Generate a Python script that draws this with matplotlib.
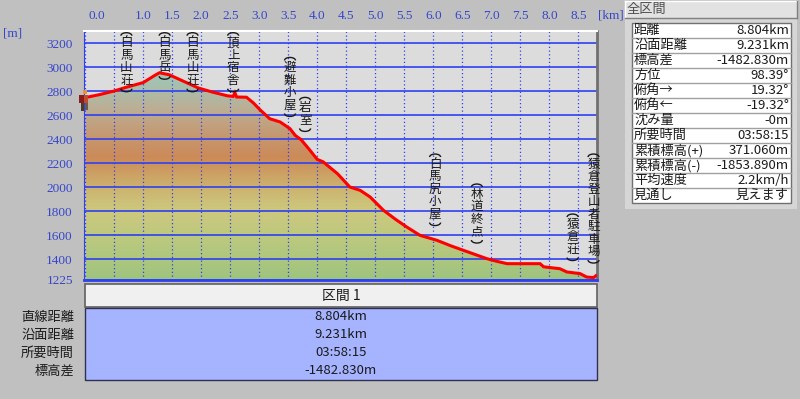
import numpy as np
import matplotlib
matplotlib.use("Agg")
import matplotlib.pyplot as plt
import matplotlib.transforms as mtransforms
from matplotlib.colors import LinearSegmentedColormap
from matplotlib.patches import Rectangle, Polygon, Arc

plt.rcParams['font.family'] = ['Noto Sans CJK JP', 'DejaVu Sans']

# ------------------------------------------------------------
# Data
# ------------------------------------------------------------
dist_km = [0.00, 0.25, 0.50, 0.70, 1.00, 1.20, 1.28, 1.45, 1.70, 1.95,
           2.20, 2.45, 2.55, 2.58, 2.61, 2.78, 2.90, 3.01, 3.18, 3.36,
           3.53, 3.62, 3.72, 3.85, 4.00, 4.10, 4.35, 4.56, 4.74, 4.91,
           5.14, 5.35, 5.54, 5.77, 6.06, 6.30, 6.52, 6.92, 7.10, 7.27,
           7.84, 7.90, 8.18, 8.30, 8.53, 8.64, 8.76, 8.80]
elev_m = [2745, 2770, 2800, 2830, 2870, 2930, 2952, 2935, 2880, 2825,
          2790, 2760, 2755, 2785, 2750, 2748, 2700, 2645, 2569, 2542,
          2486, 2430, 2395, 2320, 2230, 2210, 2110, 2000, 1972, 1917,
          1806, 1730, 1667, 1597, 1556, 1510, 1472, 1403, 1380, 1361,
          1361, 1335, 1319, 1292, 1278, 1250, 1245, 1260]

place_names = ["白馬山荘", "白馬岳", "白馬山荘", "頂上宿舎", "避難小屋", "岩室",
               "白馬尻小屋", "林道終点", "猿倉荘", "猿倉登山者駐車場"]
place_km = [0.71, 1.37, 1.85, 2.55, 3.53, 3.79, 6.03, 6.75, 8.40, 8.76]
place_top_m = [3294, 3294, 3294, 3294, 3088, 2755, 2283, 2033, 1783, 2283]

km_ticks = [0.0, 1.0, 1.5, 2.0, 2.5, 3.0, 3.5, 4.0, 4.5, 5.0, 5.5, 6.0,
            6.5, 7.0, 7.5, 8.0, 8.5]
m_ticks = [1225, 1400, 1600, 1800, 2000, 2200, 2400, 2600, 2800, 3000, 3200]

summary_labels = ["距離", "沿面距離", "標高差", "方位", "俯角→", "俯角←",
                  "沈み量", "所要時間", "累積標高(+)", "累積標高(-)",
                  "平均速度", "見通し"]
summary_values = ["8.804km", "9.231km", "-1482.830m", "98.39°", "19.32°",
                  "-19.32°", "-0m", "03:58:15", "371.060m", "-1853.890m",
                  "2.2km/h", "見えます"]

section_title = "区間 1"
section_labels = ["直線距離", "沿面距離", "所要時間", "標高差"]
section_values = ["8.804km", "9.231km", "03:58:15", "-1482.830m"]

# elevation colour ramp of the fill
ramp_m = [1225, 1500, 1800, 2000, 2250, 2450, 2650, 2900, 3300]
ramp_colors = ["#9ec47e", "#b6c87e", "#cdc97e", "#ccb26e", "#cc8a58",
               "#c49a74", "#bcae94", "#a2c4b4", "#90c0c0"]

BLUE = "#2f40f0"
LABEL_BLUE = "#3646cc"
TEXT = "#1a1a1a"
Y_MIN, Y_MAX = 1225, 3300
X_MIN, X_MAX = -0.02, 8.82

# ------------------------------------------------------------
# Figure
# ------------------------------------------------------------
fig = plt.figure(figsize=(8.0, 3.99), dpi=100, facecolor="#c0c0c0")
ax = fig.add_axes([84 / 800, 1 - 280 / 399, 513 / 800, 249 / 399])
ax.set_facecolor("#dcdcdc")
ax.set_xlim(X_MIN, X_MAX)
ax.set_ylim(Y_MIN, Y_MAX)

# overlay in pixel coords for panels / tables
ov = fig.add_axes([0, 0, 1, 1], zorder=5)
ov.set_xlim(0, 800)
ov.set_ylim(399, 0)
ov.axis("off")
ov.patch.set_alpha(0)

# --- gradient fill under profile ---
cmap = LinearSegmentedColormap.from_list(
    "elev", [((m - Y_MIN) / (Y_MAX - Y_MIN), c) for m, c in zip(ramp_m, ramp_colors)])
grad = np.linspace(Y_MIN, Y_MAX, 256).reshape(-1, 1)
im = ax.imshow(grad, extent=[X_MIN, X_MAX, Y_MIN, Y_MAX], origin="lower",
               aspect="auto", cmap=cmap, vmin=Y_MIN, vmax=Y_MAX, zorder=0.5)
poly = Polygon(np.column_stack([[dist_km[0]] + dist_km + [dist_km[-1]],
                                [Y_MIN] + elev_m + [Y_MIN]]),
               closed=True, facecolor="none", edgecolor="none",
               transform=ax.transData)
ax.add_patch(poly)
im.set_clip_path(poly)

# --- grid ---
ax.set_xticks(np.arange(0, 8.51, 0.5))
ax.set_yticks(m_ticks)
ax.grid(axis="x", color=BLUE, linestyle=(0, (1, 2)), linewidth=0.9)
ax.grid(axis="y", color=BLUE, linestyle="-", linewidth=1.2)
ax.tick_params(axis="x", length=0, labelbottom=False)
ax.tick_params(axis="y", length=0, pad=8, labelsize=9.5, labelcolor=LABEL_BLUE)
for lab in ax.get_yticklabels():
    lab.set_family("Liberation Serif")

# --- profile line ---
ax.plot(dist_km, elev_m, color="#ff0000", linewidth=2.2, zorder=3,
        solid_joinstyle="miter")

# spines (sunken panel look)
ax.spines["left"].set_color(BLUE)
ax.spines["bottom"].set_color(BLUE)
ax.spines["bottom"].set_linewidth(2)
ax.spines["top"].set_color("white")
ax.spines["top"].set_linewidth(1.5)
ax.spines["right"].set_color("#707070")
ax.spines["right"].set_linewidth(2)

# --- x tick labels on top ---
xtrans = mtransforms.blended_transform_factory(ax.transData, ov.transData)
for k in km_ticks:
    if k == 0:
        ov.text(0.05, 16, "0.0", transform=xtrans, ha="left", va="center",
                fontsize=9.5, color=LABEL_BLUE, family="Liberation Serif")
    else:
        ov.text(k, 16, f"{k:.1f}", transform=xtrans, ha="center", va="center",
                fontsize=9.5, color=LABEL_BLUE, family="Liberation Serif")
ov.text(598, 16, "[km]", ha="left", va="center", fontsize=9.5,
        color=LABEL_BLUE, family="Liberation Serif")
ov.text(3, 34, "[m]", ha="left", va="center", fontsize=9.5,
        color=LABEL_BLUE, family="Liberation Serif")


# --- vertical place labels (characters stacked, bracket arcs top/bottom) ---
def vertical_label(x, top, name):
    step = 12.5
    px, py = ax.transData.transform((x, top))
    tr = mtransforms.Affine2D().translate(px, py)
    fig.patches.append(Arc((0, -4), 11, 6, theta1=0, theta2=180, color=TEXT,
                           lw=1, transform=tr, zorder=4))
    cur = 5 + step / 2
    for ch in name:
        ax.annotate(ch, (x, top), xytext=(0, -cur), textcoords="offset pixels",
                    ha="center", va="center", fontsize=9, color=TEXT, zorder=4)
        cur += step
    cur += -step / 2 + 2
    fig.patches.append(Arc((0, -cur), 11, 6, theta1=180, theta2=360, color=TEXT,
                           lw=1, transform=tr, zorder=4))


for x, top, name in zip(place_km, place_top_m, place_names):
    vertical_label(x, top, name)

# --- hiker icon at the start point ---
px0, py0 = ax.transData.transform((dist_km[0], elev_m[0]))
icon = mtransforms.Affine2D().scale(1, -1).translate(px0, py0)
for (rx, ry, w, h, c) in [(-6, -3, 6, 8, "#8a1c1c"), (-2, -8, 4, 4, "#e89040"),
                          (-4, 5, 3, 8, "#4a3a30"), (0, 5, 3, 7, "#6a5a48"),
                          (-1, -3, 4, 8, "#c04a30")]:
    fig.patches.append(Rectangle((rx, ry), w, h, facecolor=c, edgecolor="none",
                                 transform=icon, zorder=6))

# ------------------------------------------------------------
# Right summary panel
# ------------------------------------------------------------
ov.add_patch(Rectangle((625, 19), 172, 190, facecolor="#d6d6d6", edgecolor="none"))
ov.add_patch(Rectangle((625, 1), 172, 17, facecolor="#e2e2e2", edgecolor="none"))
ov.plot([625, 797], [1, 1], color="white", lw=1)
ov.plot([625, 625], [1, 18], color="white", lw=1)
ov.plot([625, 797], [18, 18], color="#808080", lw=1)
ov.plot([797, 797], [1, 18], color="#808080", lw=1)
ov.text(627, 9.5, "全区間", ha="left", va="center", fontsize=9.5, color="#505050")

row_h = 15
tab_top = 23
ov.add_patch(Rectangle((632, tab_top), 159, row_h * len(summary_labels),
                       facecolor="white", edgecolor="#707070", lw=1))
for i, (lab, val) in enumerate(zip(summary_labels, summary_values)):
    yc = tab_top + row_h * i + row_h / 2
    if i > 0:
        ov.plot([632, 791], [tab_top + row_h * i] * 2, color="#a0a0a0", lw=1)
    ov.text(634, yc, lab, ha="left", va="center", fontsize=9.5, color=TEXT)
    ov.text(789, yc, val, ha="right", va="center", fontsize=9.5, color=TEXT)

# ------------------------------------------------------------
# Bottom section table
# ------------------------------------------------------------
ov.add_patch(Rectangle((85, 284), 512, 23, facecolor="#f0f0f0",
                       edgecolor="#606060", lw=1.2))
ov.text(341, 296, section_title, ha="center", va="center", fontsize=10, color=TEXT)
ov.add_patch(Rectangle((85, 308), 512, 72, facecolor="#a6b4ff",
                       edgecolor="#303050", lw=1))
for i, (lab, val) in enumerate(zip(section_labels, section_values)):
    yc = 317 + 18 * i
    ov.text(341, yc, val, ha="center", va="center", fontsize=9.5, color=TEXT)
    ov.text(74, yc, lab, ha="right", va="center", fontsize=9.5, color=TEXT)

fig.savefig("out.png", dpi=100, facecolor=fig.get_facecolor())
